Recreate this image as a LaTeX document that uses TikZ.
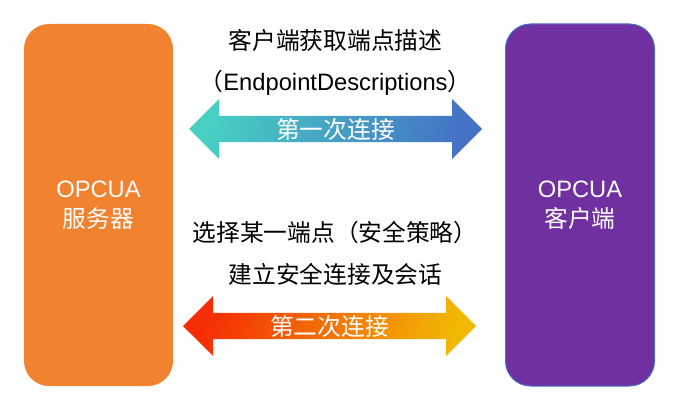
\documentclass[tikz,border=0pt]{standalone}
\usepackage{fontspec}
\setmainfont{Liberation Sans}
\newfontfamily\cjk{Noto Sans CJK SC}
\usetikzlibrary{shapes.arrows}
\definecolor{boxorange}{RGB}{240,130,48}
\definecolor{boxpurple}{RGB}{112,48,160}
\definecolor{boxedge}{RGB}{68,114,196}
\definecolor{tealend}{RGB}{72,207,196}
\definecolor{blueend}{RGB}{68,114,196}
\definecolor{redend}{RGB}{245,45,5}
\definecolor{goldend}{RGB}{241,184,5}
\tikzset{
  bigfont/.style={font=\fontsize{17.8}{22.5}\selectfont},
  endbox/.style={bigfont,rectangle,rounded corners=18.75pt,text=white,align=center,
    minimum width=111.75pt,minimum height=271.5pt,inner sep=0pt},
  linkarrow/.style={bigfont,double arrow,text=white,inner sep=0pt,
    minimum width=45pt,minimum height=219.75pt,
    double arrow head extend=10.9pt,double arrow head indent=0pt},
}
\begin{document}
\begin{tikzpicture}[x=0.75pt,y=-0.75pt]
\useasboundingbox (0,0) rectangle (698,417);
\node (server) [endbox,fill=boxorange] at (98.5,205) {OPCUA\\{\cjk 服务器}};
\node (client) [endbox,fill=boxpurple,draw=boxedge,line width=0.75pt] at (580,205) {OPCUA\\{\cjk 客户端}};
\node (t1) [bigfont] at (335.5,40) {\cjk 客户端获取端点描述};
\node (t2) [bigfont] at (335.5,83) {\cjk （{\rmfamily EndpointDescriptions}）};
\node (first) [linkarrow,left color=tealend,right color=blueend,shading angle=75] at (335.5,129) {\cjk 第一次连接};
\node (t3) [bigfont] at (335,232) {\cjk 选择某一端点（安全策略）};
\node (t4) [bigfont] at (335.5,274) {\cjk 建立安全连接及会话};
\node (second) [linkarrow,left color=redend,right color=goldend,shading angle=75] at (329.5,326) {\cjk 第二次连接};
\end{tikzpicture}
\end{document}
